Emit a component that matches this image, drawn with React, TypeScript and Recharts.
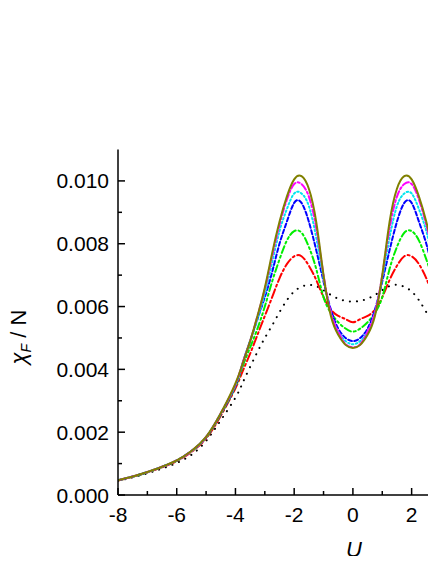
import React from 'react';
import { LineChart, Line, XAxis, YAxis } from 'recharts';

// U grid (plot is cut off just past U = 2.8)
const U = [
  -8, -7.5, -7, -6.5, -6, -5.5, -5, -4.5, -4, -3.75, -3.5, -3.25, -3, -2.75, -2.5, -2.25, -2, -1.75, -1.5, -1.25, -1, -0.75, -0.5, -0.25,
  0, 0.25, 0.5, 0.75, 1, 1.25, 1.5, 1.75, 2, 2.25, 2.5, 2.75, 3,
];

const black = [
  0.00045, 0.00056, 0.00069, 0.00084, 0.00102, 0.00128, 0.00172, 0.00238, 0.0031, 0.00358, 0.00408, 0.00456, 0.005, 0.0054, 0.00582, 0.0062, 0.00648, 0.00663, 0.00669, 0.00665, 0.00652, 0.00637, 0.00625, 0.00618,
  0.00616, 0.00618, 0.00625, 0.00637, 0.00652, 0.00665, 0.00669, 0.00663, 0.00648, 0.0062, 0.00582, 0.0054, 0.005,
];
const red = [
  0.00046, 0.00058, 0.00072, 0.00088, 0.00108, 0.00137, 0.0018, 0.00252, 0.0034, 0.00395, 0.0045, 0.0051, 0.0057, 0.0063, 0.0069, 0.00735, 0.0076, 0.0076, 0.0073, 0.00685, 0.0063, 0.0059, 0.0057, 0.0056,
  0.0055, 0.0056, 0.0057, 0.0059, 0.0063, 0.00685, 0.0073, 0.0076, 0.0076, 0.00735, 0.0069, 0.0063, 0.0057,
];
const green = [
  0.00047, 0.00058, 0.00072, 0.00089, 0.00109, 0.00139, 0.00183, 0.00256, 0.00345, 0.0041, 0.0047, 0.0053, 0.006, 0.0068, 0.0075, 0.0081, 0.0084, 0.00835, 0.0079, 0.0072, 0.0063, 0.0058, 0.0055, 0.0053,
  0.0052, 0.0053, 0.0055, 0.0058, 0.0063, 0.0072, 0.0079, 0.00835, 0.0084, 0.0081, 0.0075, 0.0068, 0.006,
];
const blue = [
  0.00047, 0.00059, 0.00073, 0.0009, 0.0011, 0.0014, 0.00184, 0.00258, 0.00348, 0.0042, 0.0049, 0.0056, 0.0063, 0.0071, 0.008, 0.0087, 0.0093, 0.0093, 0.0087, 0.0078, 0.0068, 0.0059, 0.0053, 0.005,
  0.0049, 0.005, 0.0053, 0.0059, 0.0068, 0.0078, 0.0087, 0.0093, 0.0093, 0.0087, 0.008, 0.0071, 0.0063,
];
const cyan = [
  0.00047, 0.00059, 0.00073, 0.0009, 0.0011, 0.0014, 0.00185, 0.0026, 0.0035, 0.00422, 0.0049, 0.0056, 0.0064, 0.0074, 0.0084, 0.0091, 0.0096, 0.0096, 0.0092, 0.0082, 0.0069, 0.0058, 0.0052, 0.0049,
  0.0048, 0.0049, 0.0052, 0.0058, 0.0069, 0.0082, 0.0092, 0.0096, 0.0096, 0.0091, 0.0084, 0.0074, 0.0064,
];
const magenta = [
  0.00047, 0.00059, 0.00073, 0.0009, 0.0011, 0.0014, 0.00185, 0.0026, 0.00352, 0.00422, 0.0049, 0.0057, 0.00655, 0.0076, 0.0086, 0.0094, 0.0099, 0.0099, 0.0095, 0.0085, 0.007, 0.0058, 0.0052, 0.0048,
  0.0047, 0.0048, 0.0052, 0.0058, 0.007, 0.0085, 0.0095, 0.0099, 0.0099, 0.0094, 0.0086, 0.0076, 0.00655,
];
const olive = [
  0.00047, 0.00059, 0.00073, 0.0009, 0.0011, 0.0014, 0.00185, 0.0026, 0.00355, 0.0042, 0.0049, 0.0057, 0.0066, 0.0077, 0.0087, 0.0095, 0.01005, 0.01015, 0.00975, 0.0087, 0.007, 0.0057, 0.0051, 0.00478,
  0.00468, 0.00478, 0.0051, 0.0057, 0.007, 0.0087, 0.00975, 0.01015, 0.01005, 0.0095, 0.0087, 0.0077, 0.0066,
];

const X_TICKS = [-8, -7, -6, -5, -4, -3, -2, -1, 0, 1, 2];
const Y_TICKS = [0, 0.001, 0.002, 0.003, 0.004, 0.005, 0.006, 0.007, 0.008, 0.009, 0.01];

const SERIES = [
  { key: 'black', color: '#000000', dash: '0.1 7' },
  { key: 'red', color: '#ff0000', dash: '9 3 2 3' },
  { key: 'green', color: '#00ee00', dash: '7 3 2 3 2 3' },
  { key: 'blue', color: '#0000ff', dash: '4 2.5' },
  { key: 'cyan', color: '#00e5ee', dash: '1.5 2.5' },
  { key: 'magenta', color: '#ff00ff', dash: '7 2.5 2 2.5' },
  { key: 'olive', color: '#808000', dash: undefined },
];

const rows = U.map((u, i) => ({
  u,
  black: black[i],
  red: red[i],
  green: green[i],
  blue: blue[i],
  cyan: cyan[i],
  magenta: magenta[i],
  olive: olive[i],
}));

const FONT = '"Liberation Sans", Arial, sans-serif';

function BottomTick({ x, y, payload }: any) {
  const major = payload.value % 2 === 0;
  return (
    <g>
      <line x1={x} x2={x} y1={y} y2={y - (major ? 7 : 4)} stroke="#000" strokeWidth={1.5} />
      {major && (
        <text x={x} y={y + 27} textAnchor="middle" fontSize={21} fontFamily={FONT} fill="#000">
          {payload.value}
        </text>
      )}
    </g>
  );
}

function TopTick({ x, y, payload }: any) {
  const major = payload.value % 2 === 0;
  return <line x1={x} x2={x} y1={y} y2={y + (major ? 7 : 4)} stroke="#000" strokeWidth={1.5} />;
}

function LeftTick({ x, y, payload }: any) {
  const major = Math.round(payload.value * 1000) % 2 === 0;
  return (
    <g>
      <line x1={x} x2={x + (major ? 7 : 4)} y1={y} y2={y} stroke="#000" strokeWidth={1.5} />
      {major && (
        <text x={x - 9} y={y + 7.5} textAnchor="end" fontSize={21} fontFamily={FONT} fill="#000">
          {payload.value.toFixed(3)}
        </text>
      )}
    </g>
  );
}

// svg sits at the page origin, so these are page coordinates
const YLabel = () => (
  <text transform="rotate(-90, 26, 337)" x={26} y={337} textAnchor="middle" fontSize={22} fontFamily={FONT} fill="#000">
    <tspan fontStyle="italic">χ</tspan>
    <tspan fontStyle="italic" fontSize={14} dy={5}>F</tspan>
    <tspan dy={-5}> / N</tspan>
  </text>
);

const XLabel = () => (
  <text x={354} y={557} textAnchor="middle" fontSize={22} fontFamily={FONT} fontStyle="italic" fill="#000">
    U
  </text>
);

export default function App() {
  return (
    <div style={{ width: 436, height: 564, overflow: 'hidden', margin: -8 }}>
      <LineChart width={436} height={564} data={rows} margin={{ top: 149.5, right: 0, bottom: 29, left: 0 }}>
        <XAxis
          dataKey="u"
          type="number"
          domain={[-8, 2.83]}
          ticks={X_TICKS}
          allowDataOverflow
          height={40}
          tickSize={0}
          tickMargin={0}
          tickLine={false}
          axisLine={{ stroke: '#000', strokeWidth: 1.5 }}
          tick={<BottomTick />}
          interval={0}
          label={{ content: XLabel }}
        />
        <XAxis
          xAxisId="top"
          orientation="top"
          dataKey="u"
          type="number"
          domain={[-8, 2.83]}
          ticks={X_TICKS}
          allowDataOverflow
          height={0}
          tickSize={0}
          tickMargin={0}
          tickLine={false}
          axisLine={{ stroke: '#000', strokeWidth: 1.5 }}
          tick={<TopTick />}
          interval={0}
        />
        <YAxis
          type="number"
          domain={[0, 0.011]}
          ticks={Y_TICKS}
          allowDataOverflow
          width={118}
          tickSize={0}
          tickMargin={0}
          tickLine={false}
          axisLine={{ stroke: '#000', strokeWidth: 1.5 }}
          tick={<LeftTick />}
          interval={0}
          label={{ content: YLabel }}
        />
        {SERIES.map(s => (
          <Line
            key={s.key}
            dataKey={s.key}
            type="natural"
            stroke={s.color}
            strokeWidth={2}
            strokeDasharray={s.dash}
            strokeLinecap="round"
            dot={false}
            isAnimationActive={false}
          />
        ))}
      </LineChart>
    </div>
  );
}
